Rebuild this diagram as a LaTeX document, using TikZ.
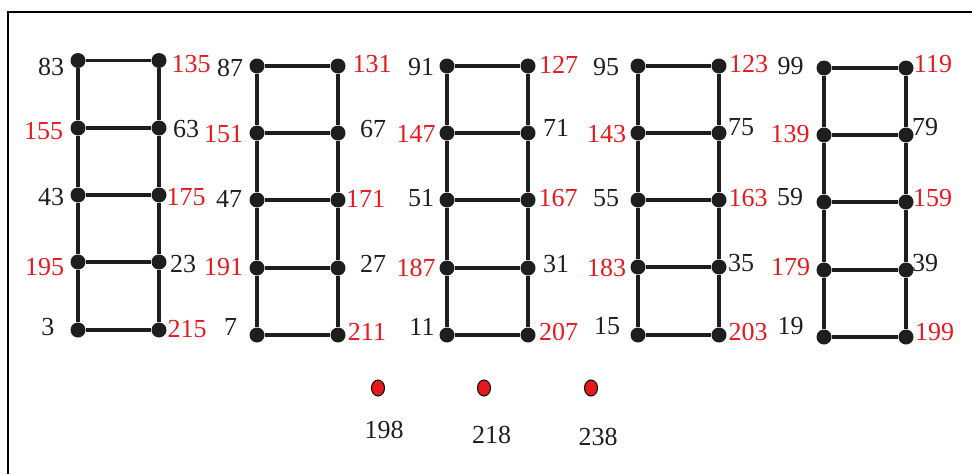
\documentclass[tikz,border=0pt]{standalone}
\usepackage{fontspec}
\setmainfont{Liberation Serif}
\usetikzlibrary{shapes.geometric}
\definecolor{ink}{HTML}{1E1E1E}
\definecolor{hot}{HTML}{E8191E}

\begin{document}
\begin{tikzpicture}[x=1pt,y=-1pt,
  dot/.style={circle,fill=ink,inner sep=0pt,minimum size=15pt},
  seed/.style={ellipse,draw=black,line width=1pt,fill=hot,inner sep=0pt,minimum width=13pt,minimum height=16pt},
  num/.style={font=\fontsize{26}{26}\selectfont,text=ink,inner sep=0pt},
  rnum/.style={num,text=hot},
  bar/.style={draw=ink,line width=3.2pt}
]
\useasboundingbox (0,0) rectangle (972,474);
\draw[line width=1.2pt] (8,474) -- (8,12) -- (972,12);

% ladder 1
\node[dot] (p83) at (78,60.5) {};
\node[dot] (p155) at (78,128) {};
\node[dot] (p43) at (78,195) {};
\node[dot] (p195) at (78,262) {};
\node[dot] (p3) at (78,330) {};
\node[dot] (p135) at (159,60.5) {};
\node[dot] (p63) at (159,128) {};
\node[dot] (p175) at (159,195) {};
\node[dot] (p23) at (159,262) {};
\node[dot] (p215) at (159,330) {};
\node[num] (t83) at (51,66.5) {83};
\node[rnum] (t155) at (43.5,131.5) {155};
\node[num] (t43) at (51,197.5) {43};
\node[rnum] (t195) at (44.5,267) {195};
\node[num] (t3) at (48,327.5) {3};
\node[rnum] (t135) at (191,64) {135};
\node[num] (t63) at (186,129) {63};
\node[rnum] (t175) at (186,197.5) {175};
\node[num] (t23) at (183,264) {23};
\node[rnum] (t215) at (187,329.5) {215};
\draw[bar] (p83)--(p155)--(p43)--(p195)--(p3);
\draw[bar] (p135)--(p63)--(p175)--(p23)--(p215);
\draw[bar] (p83)--(p135);
\draw[bar] (p155)--(p63);
\draw[bar] (p43)--(p175);
\draw[bar] (p195)--(p23);
\draw[bar] (p3)--(p215);

% ladder 2
\node[dot] (p87) at (257,66) {};
\node[dot] (p151) at (257,133) {};
\node[dot] (p47) at (257,200) {};
\node[dot] (p191) at (257,268) {};
\node[dot] (p7) at (257,335) {};
\node[dot] (p131) at (338,66) {};
\node[dot] (p67) at (338,133) {};
\node[dot] (p171) at (338,200) {};
\node[dot] (p27) at (338,268) {};
\node[dot] (p211) at (338,335) {};
\node[num] (t87) at (230,68) {87};
\node[rnum] (t151) at (223.5,134) {151};
\node[num] (t47) at (229,199) {47};
\node[rnum] (t191) at (223.5,267.5) {191};
\node[num] (t7) at (230.5,326.5) {7};
\node[rnum] (t131) at (372,64.5) {131};
\node[num] (t67) at (373,129) {67};
\node[rnum] (t171) at (365.5,198.5) {171};
\node[num] (t27) at (373,264) {27};
\node[rnum] (t211) at (367,332) {211};
\draw[bar] (p87)--(p151)--(p47)--(p191)--(p7);
\draw[bar] (p131)--(p67)--(p171)--(p27)--(p211);
\draw[bar] (p87)--(p131);
\draw[bar] (p151)--(p67);
\draw[bar] (p47)--(p171);
\draw[bar] (p191)--(p27);
\draw[bar] (p7)--(p211);

% ladder 3
\node[dot] (p91) at (447,66) {};
\node[dot] (p147) at (447,133) {};
\node[dot] (p51) at (447,200) {};
\node[dot] (p187) at (447,268) {};
\node[dot] (p11) at (447,335) {};
\node[dot] (p127) at (528,66) {};
\node[dot] (p71) at (528,133) {};
\node[dot] (p167) at (528,200) {};
\node[dot] (p31) at (528,268) {};
\node[dot] (p207) at (528,335) {};
\node[num] (t91) at (421,67.5) {91};
\node[rnum] (t147) at (416,134) {147};
\node[num] (t51) at (421,198) {51};
\node[rnum] (t187) at (416,267.5) {187};
\node[num] (t11) at (422,326.5) {11};
\node[rnum] (t127) at (558.5,64.5) {127};
\node[num] (t71) at (556,127.5) {71};
\node[rnum] (t167) at (558,198.5) {167};
\node[num] (t31) at (556,264) {31};
\node[rnum] (t207) at (558.5,332) {207};
\draw[bar] (p91)--(p147)--(p51)--(p187)--(p11);
\draw[bar] (p127)--(p71)--(p167)--(p31)--(p207);
\draw[bar] (p91)--(p127);
\draw[bar] (p147)--(p71);
\draw[bar] (p51)--(p167);
\draw[bar] (p187)--(p31);
\draw[bar] (p11)--(p207);

% ladder 4
\node[dot] (p95) at (638,66) {};
\node[dot] (p143) at (638,133) {};
\node[dot] (p55) at (638,200) {};
\node[dot] (p183) at (638,267) {};
\node[dot] (p15) at (638,335) {};
\node[dot] (p123) at (719,66) {};
\node[dot] (p75) at (719,133) {};
\node[dot] (p163) at (719,200) {};
\node[dot] (p35) at (719,267) {};
\node[dot] (p203) at (719,335) {};
\node[num] (t95) at (606,67.5) {95};
\node[rnum] (t143) at (606.5,134) {143};
\node[num] (t55) at (606,198) {55};
\node[rnum] (t183) at (606.5,267.5) {183};
\node[num] (t15) at (607,326.5) {15};
\node[rnum] (t123) at (748.5,64) {123};
\node[num] (t75) at (741,127.5) {75};
\node[rnum] (t163) at (748,198.5) {163};
\node[num] (t35) at (741,263.5) {35};
\node[rnum] (t203) at (748,332) {203};
\draw[bar] (p95)--(p143)--(p55)--(p183)--(p15);
\draw[bar] (p123)--(p75)--(p163)--(p35)--(p203);
\draw[bar] (p95)--(p123);
\draw[bar] (p143)--(p75);
\draw[bar] (p55)--(p163);
\draw[bar] (p183)--(p35);
\draw[bar] (p15)--(p203);

% ladder 5
\node[dot] (p99) at (824,68) {};
\node[dot] (p139) at (824,135) {};
\node[dot] (p59) at (824,202) {};
\node[dot] (p179) at (824,270) {};
\node[dot] (p19) at (824,337) {};
\node[dot] (p119) at (906,68) {};
\node[dot] (p79) at (906,135) {};
\node[dot] (p159) at (906,202) {};
\node[dot] (p39) at (906,270) {};
\node[dot] (p199) at (906,337) {};
\node[num] (t99) at (790.5,66.5) {99};
\node[rnum] (t139) at (790,134) {139};
\node[num] (t59) at (790,197.5) {59};
\node[rnum] (t179) at (790.5,267.5) {179};
\node[num] (t19) at (790.5,326) {19};
\node[rnum] (t119) at (933,64.5) {119};
\node[num] (t79) at (925,127.5) {79};
\node[rnum] (t159) at (932.5,198.5) {159};
\node[num] (t39) at (925,263.5) {39};
\node[rnum] (t199) at (934.5,332) {199};
\draw[bar] (p99)--(p139)--(p59)--(p179)--(p19);
\draw[bar] (p119)--(p79)--(p159)--(p39)--(p199);
\draw[bar] (p99)--(p119);
\draw[bar] (p139)--(p79);
\draw[bar] (p59)--(p159);
\draw[bar] (p179)--(p39);
\draw[bar] (p19)--(p199);

% loose points
\node[seed] (s198) at (378,388) {};
\node[seed] (s218) at (484,388) {};
\node[seed] (s238) at (591,388) {};
\node[num] (t198) at (384,429.5) {198};
\node[num] (t218) at (491.5,435) {218};
\node[num] (t238) at (598,437) {238};
\end{tikzpicture}
\end{document}
